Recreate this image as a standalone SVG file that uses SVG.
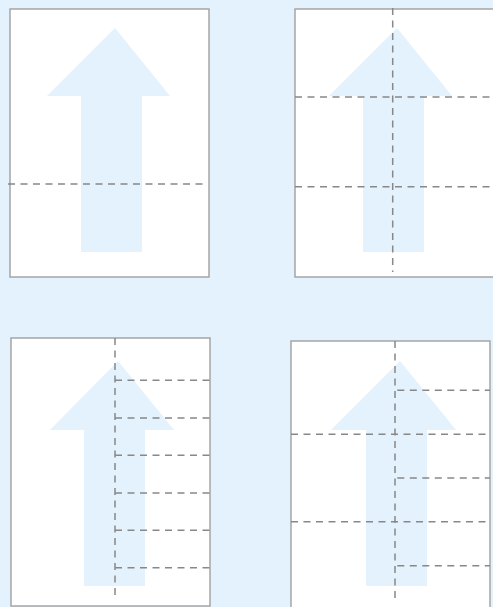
<svg xmlns="http://www.w3.org/2000/svg" width="493" height="607" viewBox="0 0 493 607">
<style>
.page{fill:#ffffff;stroke:#a0a0a0;stroke-width:1.4}
.arrow{fill:#e3f2fc}
.cut{fill:none;stroke:#888888;stroke-width:1.5;stroke-dasharray:7 5.5}
</style>
<rect width="493" height="607" fill="#e3f2fc"/>
<g id="panel1">
<rect class="page" x="10" y="9" width="199" height="268"/>
<polygon class="arrow" points="115,28 170,96 142,96 142,252 81,252 81,96 47,96"/>
</g>
<g id="panel2">
<rect class="page" x="295" y="9" width="210" height="268"/>
<polygon class="arrow" points="397,28 452,96 424,96 424,252 363,252 363,96 329,96"/>
</g>
<g id="panel3">
<rect class="page" x="11" y="338" width="199" height="268"/>
<polygon class="arrow" points="118,361 174,430 145,430 145,586 84,586 84,430 50,430"/>
</g>
<g id="panel4">
<rect class="page" x="291" y="341" width="199" height="280"/>
<polygon class="arrow" points="400,361 456,430 427,430 427,586 366,586 366,430 331,430"/>
</g>
<g id="connectors">
<line class="cut" x1="8" y1="184" x2="207" y2="184"/>
<line class="cut" x1="392.7" y1="8" x2="392.7" y2="272"/>
<line class="cut" x1="295" y1="97" x2="493" y2="97"/>
<line class="cut" x1="295" y1="186.7" x2="493" y2="186.7"/>
<line class="cut" x1="115" y1="338" x2="115" y2="600"/>
<line class="cut" x1="115" y1="380.3" x2="210" y2="380.3"/>
<line class="cut" x1="115" y1="418" x2="210" y2="418"/>
<line class="cut" x1="115" y1="455.3" x2="210" y2="455.3"/>
<line class="cut" x1="115" y1="493" x2="210" y2="493"/>
<line class="cut" x1="115" y1="530.3" x2="210" y2="530.3"/>
<line class="cut" x1="115" y1="567.7" x2="210" y2="567.7"/>
<line class="cut" x1="395" y1="341" x2="395" y2="603"/>
<line class="cut" x1="291" y1="434.3" x2="490" y2="434.3"/>
<line class="cut" x1="291" y1="521.7" x2="490" y2="521.7"/>
<line class="cut" x1="397.3" y1="390.3" x2="490" y2="390.3"/>
<line class="cut" x1="397.3" y1="478" x2="490" y2="478"/>
<line class="cut" x1="397.3" y1="565.7" x2="490" y2="565.7"/>
</g>
</svg>
